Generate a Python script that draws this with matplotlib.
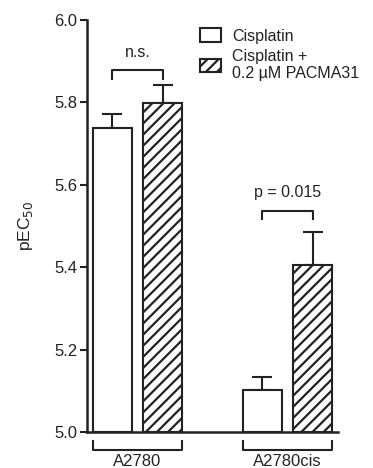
import matplotlib
matplotlib.use('Agg')
import matplotlib.pyplot as plt
import numpy as np

plt.rcParams['font.family'] = ['Liberation Sans', 'DejaVu Sans']
plt.rcParams['hatch.linewidth'] = 1.6

# data
cell_lines = ['A2780', 'A2780cis']
cisplatin = [5.737, 5.102]
cisplatin_err = [0.035, 0.032]
combo = [5.798, 5.405]
combo_err = [0.044, 0.080]
sig_labels = ['n.s.', 'p = 0.015']

fig = plt.figure(figsize=(3.73, 4.68), dpi=100)
ax = fig.add_axes([87 / 373, 1 - 432 / 468, (338 - 87) / 373, (432 - 20) / 468])

x = np.arange(len(cell_lines))
w = 0.26
off = 0.168

ax.bar(x - off, np.array(cisplatin) - 5.0, w, bottom=5.0, color='white',
       edgecolor='#222222', linewidth=1.5, label='Cisplatin', zorder=2)
ax.bar(x + off, np.array(combo) - 5.0, w, bottom=5.0, color='white',
       edgecolor='#222222', linewidth=1.5, hatch='///',
       label='Cisplatin +\n0.2 \u00b5M PACMA31', zorder=2)

ax.errorbar(x - off, cisplatin, yerr=[np.zeros(2), cisplatin_err], fmt='none',
            ecolor='#222222', elinewidth=1.5, capsize=7, capthick=1.5, zorder=1)
ax.errorbar(x + off, combo, yerr=[np.zeros(2), combo_err], fmt='none',
            ecolor='#222222', elinewidth=1.5, capsize=7, capthick=1.5, zorder=1)

# significance brackets
for i in range(len(cell_lines)):
    top = max(cisplatin[i] + cisplatin_err[i], combo[i] + combo_err[i])
    yb = top + 0.036 if i == 0 else top + 0.052
    ax.plot([x[i] - off, x[i] - off, x[i] + off, x[i] + off],
            [yb - 0.02, yb, yb, yb - 0.02], color='#222222', lw=1.5,
            clip_on=False)
    ax.text(x[i], yb + 0.025, sig_labels[i], ha='center', va='bottom',
            fontsize=11.5, color='#222222')

ax.set_xlim(-0.337, 1.337)
ax.set_ylim(5.0, 6.0)
ax.set_yticks([5.0, 5.2, 5.4, 5.6, 5.8, 6.0])
ax.set_yticklabels(['5.0', '5.2', '5.4', '5.6', '5.8', '6.0'])
ax.tick_params(axis='y', length=5, width=1.5, labelsize=12, pad=2,
               colors='#222222')
ax.set_xticks([])
for s in ['top', 'right']:
    ax.spines[s].set_visible(False)
for s in ['left', 'bottom']:
    ax.spines[s].set_linewidth(1.8)
    ax.spines[s].set_color('#222222')

ax.set_ylabel('pEC$_{50}$', fontsize=12.5, color='#222222', labelpad=14)

# group brackets below the axis
trans = ax.get_xaxis_transform()
for i, name in enumerate(cell_lines):
    x0 = x[i] - off - w / 2
    x1 = x[i] + off + w / 2
    ax.plot([x0, x0, x1, x1], [-0.022, -0.044, -0.044, -0.022],
            transform=trans, color='#222222', lw=1.5, clip_on=False)
    ax.text(x[i], -0.053, name, transform=trans, ha='center', va='top',
            fontsize=12, color='#222222')

leg = ax.legend(loc='upper left', bbox_to_anchor=(0.425, 0.995), frameon=False,
                fontsize=11.5, handlelength=1.3, handleheight=0.9,
                handletextpad=0.7, labelspacing=0.35, borderaxespad=0.0)
for t in leg.get_texts():
    t.set_color('#222222')
    t.set_linespacing(1.15)

fig.savefig('out.png', dpi=100)
